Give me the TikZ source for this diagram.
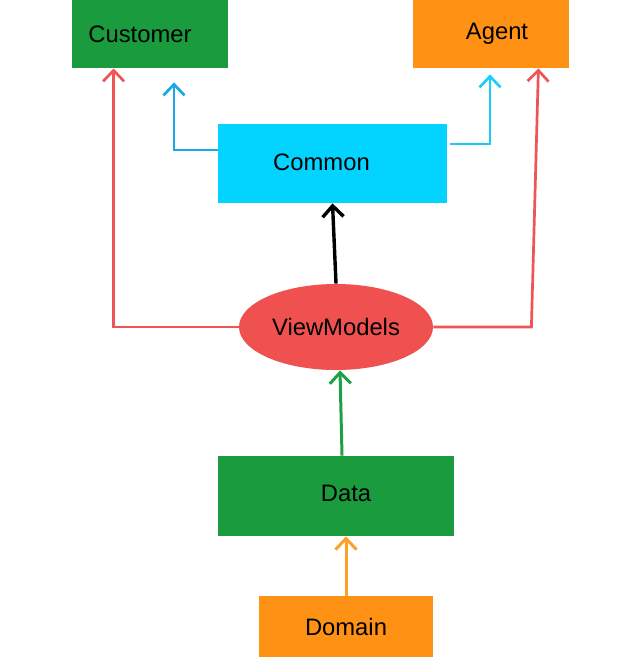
\documentclass[tikz,border=0pt]{standalone}
\usepackage{fontspec}
\setmainfont{Liberation Sans}
\usepackage{tikz}
\usetikzlibrary{arrows.meta, positioning, shapes.geometric, calc}
\definecolor{mygreen}{RGB}{26, 155, 62}
\definecolor{myorange}{RGB}{255, 146, 20}
\definecolor{mycyan}{RGB}{3, 211, 255}
\definecolor{myred}{RGB}{239, 80, 80}
\definecolor{redline}{RGB}{240, 84, 84}
\definecolor{blueline}{RGB}{26, 167, 232}
\definecolor{cyanline}{RGB}{25, 207, 245}
\definecolor{greenline}{RGB}{30, 160, 70}
\definecolor{orangeline}{RGB}{255, 160, 40}
\tikzset{
  modulebox/.style={
    rectangle, inner sep=0pt, align=center,
    font=\fontsize{11.9}{14}\selectfont
  },
  vmnode/.style={
    ellipse, inner sep=0pt, fill=myred,
    minimum width=97pt, minimum height=43pt,
    font=\fontsize{11.9}{14}\selectfont
  },
  arrow/.style={
    -{Straight Barb[length=5.5pt, width=10.5pt]}, line width=1.35pt
  }
}
\begin{document}
\begin{tikzpicture}[x=0.5pt, y=-0.5pt]
        \useasboundingbox (0,0) rectangle (630,657);
        % layers
        \node[modulebox, fill=mygreen, minimum width=78pt, minimum height=34pt] (cust) at (150,34) {\hspace*{-10pt}Customer};
        \node[modulebox, fill=myorange, minimum width=78pt, minimum height=34pt] (agent) at (491,34) {\hspace*{6pt}\raisebox{1.5pt}{Agent}};
        \node[modulebox, fill=mycyan, minimum width=114.5pt, minimum height=39.5pt] (common) at (332.5,163.5) {\hspace*{-11pt}\raisebox{1.5pt}{Common}};
        \node[vmnode] (vm) at (336,327) {ViewModels};
        \node[modulebox, fill=mygreen, minimum width=118pt, minimum height=40pt] (data) at (336,496) {\hspace*{10pt}\raisebox{2.5pt}{Data}};
        \node[modulebox, fill=myorange, minimum width=87pt, minimum height=30.5pt] (domain) at (346,626.5) {Domain};

        \draw[arrow, redline] (vm.west) -| ([xshift=21pt]cust.south west);
        \draw[arrow, redline] (vm.east) -- ++(49pt,0) -- ([xshift=-15.5pt]agent.south east);
        \draw[arrow, blueline] ([yshift=6.75pt]common.west) -| ([xshift=12pt, yshift=-7pt]cust.south);
        \draw[arrow, cyanline] ([xshift=1.5pt, yshift=9.75pt]common.east) -| ([xshift=-0.5pt, yshift=-3pt]agent.south);
        \draw[arrow, black, line width=1.7pt] (vm.north) -- (common.south);
        \draw[arrow, greenline, line width=1.5pt] ([xshift=3pt]data.north) -- ([xshift=2pt]vm.south);
        \draw[arrow, orangeline, line width=1.5pt] (domain.north) -- (domain.north |- data.south);
      \end{tikzpicture}
\end{document}
